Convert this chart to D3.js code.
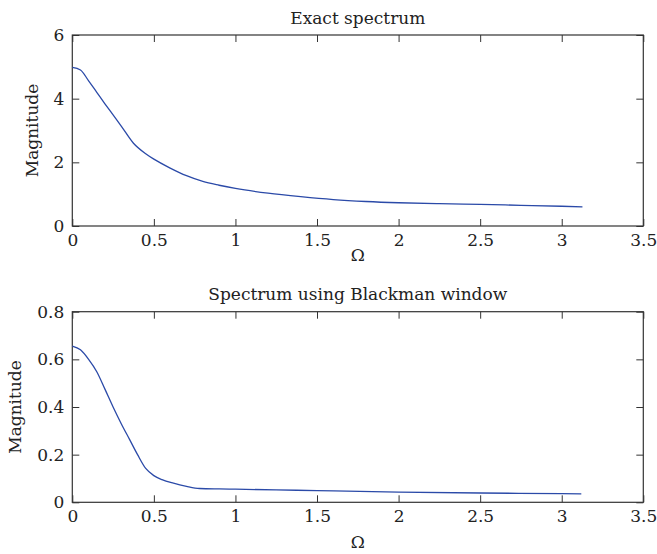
<!DOCTYPE html>
<html><head><meta charset="utf-8">
<script src="https://cdn.jsdelivr.net/npm/d3@7"></script>
<style>
body{margin:0;background:#fff;}
text{font-family:"DejaVu Serif",serif;fill:#222;}
</style></head>
<body><svg id="c" width="657" height="554"></svg>
<script>
// Top panel: exact spectrum
const exactOmega = [0,0.05,0.1,0.15,0.2,0.25,0.3,0.375,0.45,0.5,0.6,0.7,0.8,0.9,1.0,1.2,1.4,1.6,1.8,2.0,2.25,2.5,2.75,3.0,3.127];
const exactMag   = [4.98,4.90,4.56,4.20,3.84,3.49,3.14,2.60,2.27,2.10,1.82,1.58,1.40,1.28,1.18,1.03,0.92,0.83,0.77,0.73,0.70,0.68,0.65,0.62,0.60];
// Bottom panel: Blackman window
const blackOmega = [0,0.05,0.1,0.15,0.2,0.25,0.3,0.35,0.4,0.45,0.5,0.55,0.62,0.7,0.78,0.9,1.0,1.25,1.5,2.0,2.5,3.0,3.12];
const blackMag   = [0.656,0.64,0.60,0.548,0.475,0.40,0.33,0.265,0.20,0.142,0.112,0.095,0.08,0.067,0.058,0.056,0.055,0.052,0.049,0.043,0.039,0.036,0.035];
const xTicks = [0,0.5,1,1.5,2,2.5,3,3.5];
const yTicksTop = [0,2,4,6];
const yTicksBot = [0,0.2,0.4,0.6,0.8];
const titles = ["Exact spectrum","Spectrum using Blackman window"];

const svg = d3.select("#c");
const L = 72.3, R = 643.3;
const x = d3.scaleLinear().domain([0,3.5]).range([L,R]);

function panel(top,bottom,yDomain,yTicks,fmt,xs,ys,title,ylabX,omegaOff){
  const y = d3.scaleLinear().domain(yDomain).range([bottom,top]);
  const g = svg.append("g");
  const tl = 7;
  const ax = g.append("g").attr("transform",`translate(0,${bottom})`)
    .call(d3.axisBottom(x).tickValues(xTicks).tickSize(-tl).tickPadding(8).tickFormat(d=>d3.format("")(d)));
  const axT = g.append("g").attr("transform",`translate(0,${top})`)
    .call(d3.axisTop(x).tickValues(xTicks).tickSize(-tl).tickFormat(""));
  const ay = g.append("g").attr("transform",`translate(${L},0)`)
    .call(d3.axisLeft(y).tickValues(yTicks).tickSize(-tl).tickPadding(8).tickFormat(fmt));
  const ayR = g.append("g").attr("transform",`translate(${R},0)`)
    .call(d3.axisRight(y).tickValues(yTicks).tickSize(-tl).tickFormat(""));
  [ax,axT,ay,ayR].forEach(a=>{
    a.select(".domain").remove();
    a.selectAll("line").attr("stroke","#333").attr("stroke-width",1);
    a.selectAll("text").attr("font-family","DejaVu Serif").attr("font-size",17).attr("fill","#222");
  });
  g.append("rect").attr("x",L).attr("y",top).attr("width",R-L).attr("height",bottom-top)
    .attr("fill","none").attr("stroke","#333").attr("stroke-width",1.2);
  const pts = xs.map((d,i)=>[d,ys[i]]);
  g.append("path").datum(pts)
    .attr("d",d3.line().x(d=>x(d[0])).y(d=>y(d[1])).curve(d3.curveMonotoneX))
    .attr("fill","none").attr("stroke","#2b4aa8").attr("stroke-width",1.3);
  g.append("text").attr("x",(L+R)/2).attr("y",top-11.5).attr("text-anchor","middle")
    .attr("font-size",17).text(title);
  g.append("text").attr("transform",`translate(${ylabX},${(top+bottom)/2}) rotate(-90)`)
    .attr("text-anchor","middle").attr("font-size",17).text("Magnitude");
  g.append("text").attr("x",(L+R)/2).attr("y",bottom+omegaOff).attr("text-anchor","middle")
    .attr("font-size",17).text("Ω");
}
panel(35,226,[0,6],yTicksTop,d3.format("d"),exactOmega,exactMag,titles[0],38,35);
panel(311.7,502.3,[0,0.8],yTicksBot,d=>d===0?"0":d3.format(".1f")(d),blackOmega,blackMag,titles[1],20.5,46);
</script></body></html>
